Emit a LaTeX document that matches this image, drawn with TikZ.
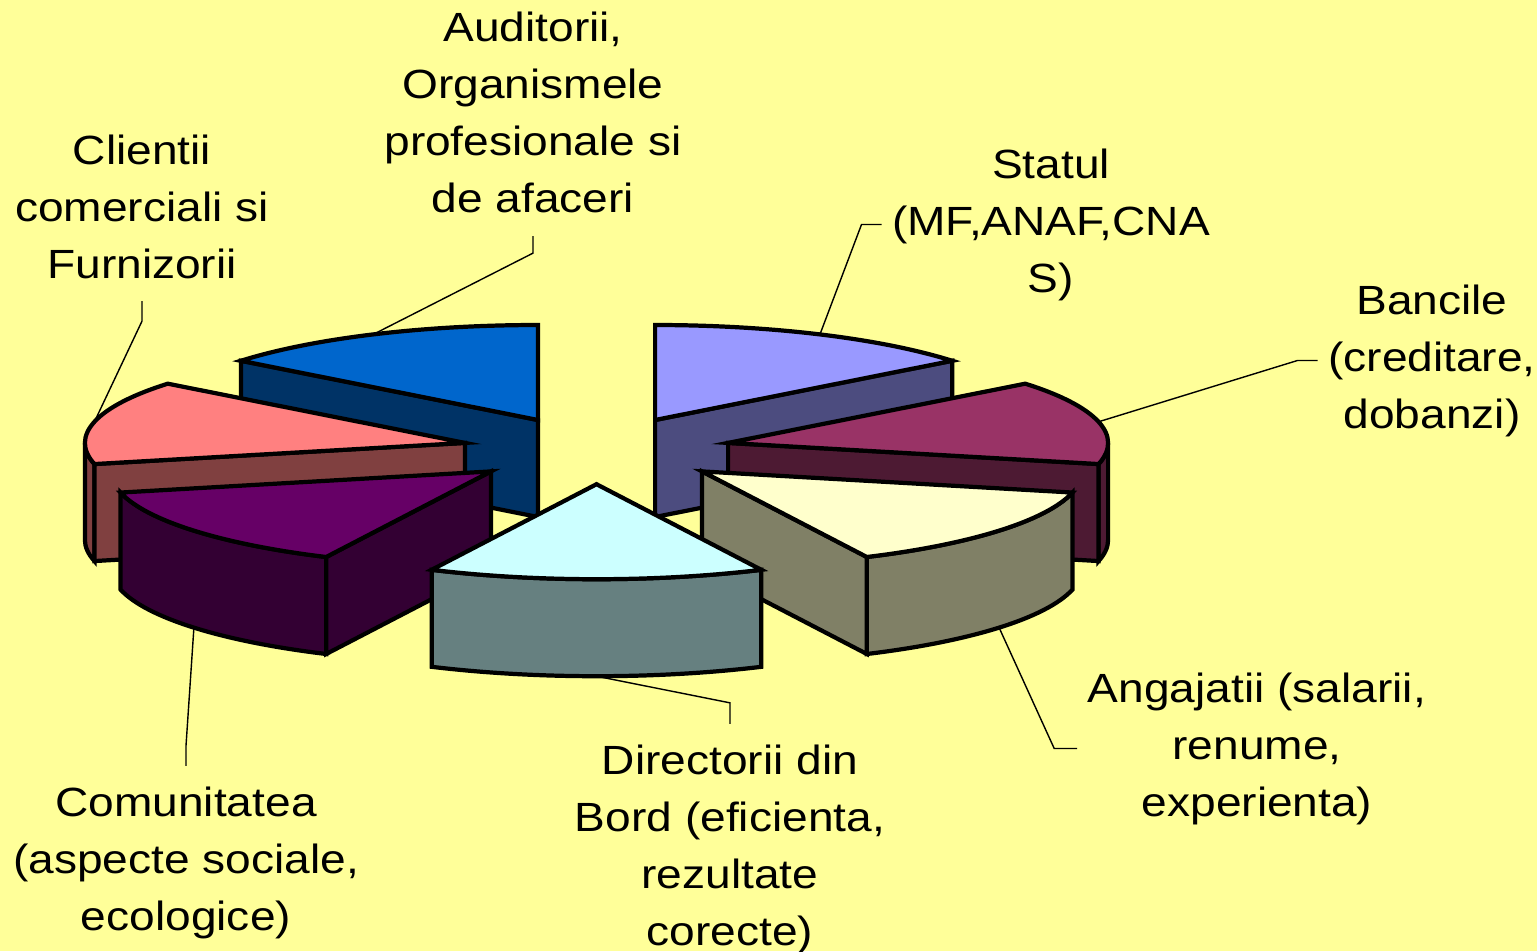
\documentclass[tikz,border=0pt]{standalone}
\usepackage{fontspec}
\setmainfont{Liberation Sans}[FakeStretch=1.13]
\usetikzlibrary{calc}

\definecolor{bgyellow}{HTML}{FFFF99}
\definecolor{statultop}{HTML}{9999FF}
\definecolor{statulside}{HTML}{4C4C7F}
\definecolor{audtop}{HTML}{0066CC}
\definecolor{audside}{HTML}{003366}
\definecolor{clitop}{HTML}{FF8080}
\definecolor{cliside}{HTML}{804040}
\definecolor{comtop}{HTML}{660066}
\definecolor{comside}{HTML}{330033}
\definecolor{dirtop}{HTML}{CCFFFF}
\definecolor{dirside}{HTML}{668080}
\definecolor{angtop}{HTML}{FFFFCC}
\definecolor{angside}{HTML}{808066}
\definecolor{banctop}{HTML}{993366}
\definecolor{bancside}{HTML}{4D1A33}

\tikzset{
  slice/.style={draw=black, line width=1.2pt, line join=miter},
  lbl/.style={align=center, anchor=base, inner sep=0pt, font=\fontsize{11.6}{16.2}\selectfont},
  leader/.style={draw=black, line width=0.4pt}
}

\begin{document}
\begin{tikzpicture}[x=0.01cm, y=0.01cm]
\useasboundingbox (0,0) rectangle (1537,-951);
\fill[bgyellow] (0,0) rectangle (1537,-951);

% Statul (back right)
\begin{scope}[shift={(655.1,-420)}]
\filldraw[slice, fill=statulside] (0,0) -- (38.57:380 and 95) -- ++(0,-97) -- (0,-97) -- cycle;
\filldraw[slice, fill=statultop] (0,0) -- (38.57:380 and 95) arc[start angle=38.57, end angle=90, x radius=380, y radius=95] -- cycle;
\coordinate (statpt) at (64.29:380 and 95);
\end{scope}

% Auditorii (back left)
\begin{scope}[shift={(538,-420)}]
\filldraw[slice, fill=audside] (0,0) -- (141.43:380 and 95) -- ++(0,-97) -- (0,-97) -- cycle;
\filldraw[slice, fill=audtop] (0,0) -- (90:380 and 95) arc[start angle=90, end angle=141.43, x radius=380, y radius=95] -- cycle;
\coordinate (audpt) at (115.71:380 and 95);
\end{scope}

% Clientii
\begin{scope}[shift={(464.9,-442.9)}]
\filldraw[slice, fill=cliside] (180:380 and 95) arc[start angle=180, end angle=192.86, x radius=380, y radius=95] -- ++(0,-97) arc[start angle=192.86, end angle=180, x radius=380, y radius=95] -- cycle;
\filldraw[slice, fill=cliside] (0,0) -- (192.86:380 and 95) -- ++(0,-97) -- (0,-97) -- cycle;
\filldraw[slice, fill=clitop] (0,0) -- (141.43:380 and 95) arc[start angle=141.43, end angle=192.86, x radius=380, y radius=95] -- cycle;
\coordinate (clipt) at (167.14:380 and 95);
\end{scope}

% Bancile
\begin{scope}[shift={(728.1,-442.9)}]
\filldraw[slice, fill=bancside] (347.14:380 and 95) arc[start angle=347.14, end angle=360, x radius=380, y radius=95] -- ++(0,-97) arc[start angle=360, end angle=347.14, x radius=380, y radius=95] -- cycle;
\filldraw[slice, fill=bancside] (0,0) -- (347.14:380 and 95) -- ++(0,-97) -- (0,-97) -- cycle;
\filldraw[slice, fill=banctop] (0,0) -- (347.14:380 and 95) arc[start angle=347.14, end angle=398.57, x radius=380, y radius=95] -- cycle;
\coordinate (bancpt) at (12.86:380 and 95);
\end{scope}

% Comunitatea
\begin{scope}[shift={(491,-471.4)}]
\filldraw[slice, fill=comside] (192.86:380 and 95) arc[start angle=192.86, end angle=244.29, x radius=380, y radius=95] -- ++(0,-97) arc[start angle=244.29, end angle=192.86, x radius=380, y radius=95] -- cycle;
\filldraw[slice, fill=comside] (0,0) -- (244.29:380 and 95) -- ++(0,-97) -- (0,-97) -- cycle;
\filldraw[slice, fill=comtop] (0,0) -- (192.86:380 and 95) arc[start angle=192.86, end angle=244.29, x radius=380, y radius=95] -- cycle;
\coordinate (compt) at ($(218.57:380 and 95)+(0,-97)$);
\end{scope}

% Angajatii
\begin{scope}[shift={(702,-471.4)}]
\filldraw[slice, fill=angside] (295.71:380 and 95) arc[start angle=295.71, end angle=347.14, x radius=380, y radius=95] -- ++(0,-97) arc[start angle=347.14, end angle=295.71, x radius=380, y radius=95] -- cycle;
\filldraw[slice, fill=angside] (0,0) -- (295.71:380 and 95) -- ++(0,-97) -- (0,-97) -- cycle;
\filldraw[slice, fill=angtop] (0,0) -- (295.71:380 and 95) arc[start angle=295.71, end angle=347.14, x radius=380, y radius=95] -- cycle;
\coordinate (angpt) at ($(321.43:380 and 95)+(0,-97)$);
\end{scope}

% Directorii (front)
\begin{scope}[shift={(596.5,-484.2)}]
\filldraw[slice, fill=dirside] (244.29:380 and 95) arc[start angle=244.29, end angle=295.71, x radius=380, y radius=95] -- ++(0,-97) arc[start angle=295.71, end angle=244.29, x radius=380, y radius=95] -- cycle;
\filldraw[slice, fill=dirtop] (0,0) -- (244.29:380 and 95) arc[start angle=244.29, end angle=295.71, x radius=380, y radius=95] -- cycle;
\coordinate (dirpt) at ($(270:380 and 95)+(0,-97)$);
\end{scope}

% labels (anchored at the baseline of their last line)
\node[lbl] (aud) at (533,-212) {Auditorii,\\Organismele\\profesionale si\\de afaceri};
\node[lbl] (cli) at (142,-278) {Clientii\\comerciali si\\Furnizorii};
\node[lbl] (stat) at (1051,-292) {Statul\\(MF,ANAF,CNA\\S)};
\node[lbl] (banc) at (1432,-428) {Bancile\\(creditare,\\dobanzi)};
\node[lbl] (ang) at (1257,-816) {Angajatii (salarii,\\renume,\\experienta)};
\node[lbl] (dir) at (730,-945) {Directorii din\\Bord (eficienta,\\rezultate\\corecte)};
\node[lbl] (com) at (186,-930) {Comunitatea\\(aspecte sociale,\\ecologice)};

% leader lines
\draw[leader] ([yshift=-0.23cm]aud.south) -- ++(0,-17) -- (audpt);
\draw[leader] ([yshift=-0.22cm]cli.south) -- ++(0,-20) -- (clipt);
\draw[leader] ([xshift=-0.1cm]stat.west) -- ++(-20,0) -- (statpt);
\draw[leader] ([xshift=-0.1cm]banc.west) -- ++(-20,0) -- (bancpt);
\draw[leader] ([xshift=-0.1cm]ang.west) -- ++(-23,0) -- (angpt);
\draw[leader] ([yshift=0.2cm]dir.north) -- ++(0,21) -- (dirpt);
\draw[leader] ([yshift=0.2cm]com.north) -- ++(0,20) -- (compt);

\end{tikzpicture}
\end{document}
